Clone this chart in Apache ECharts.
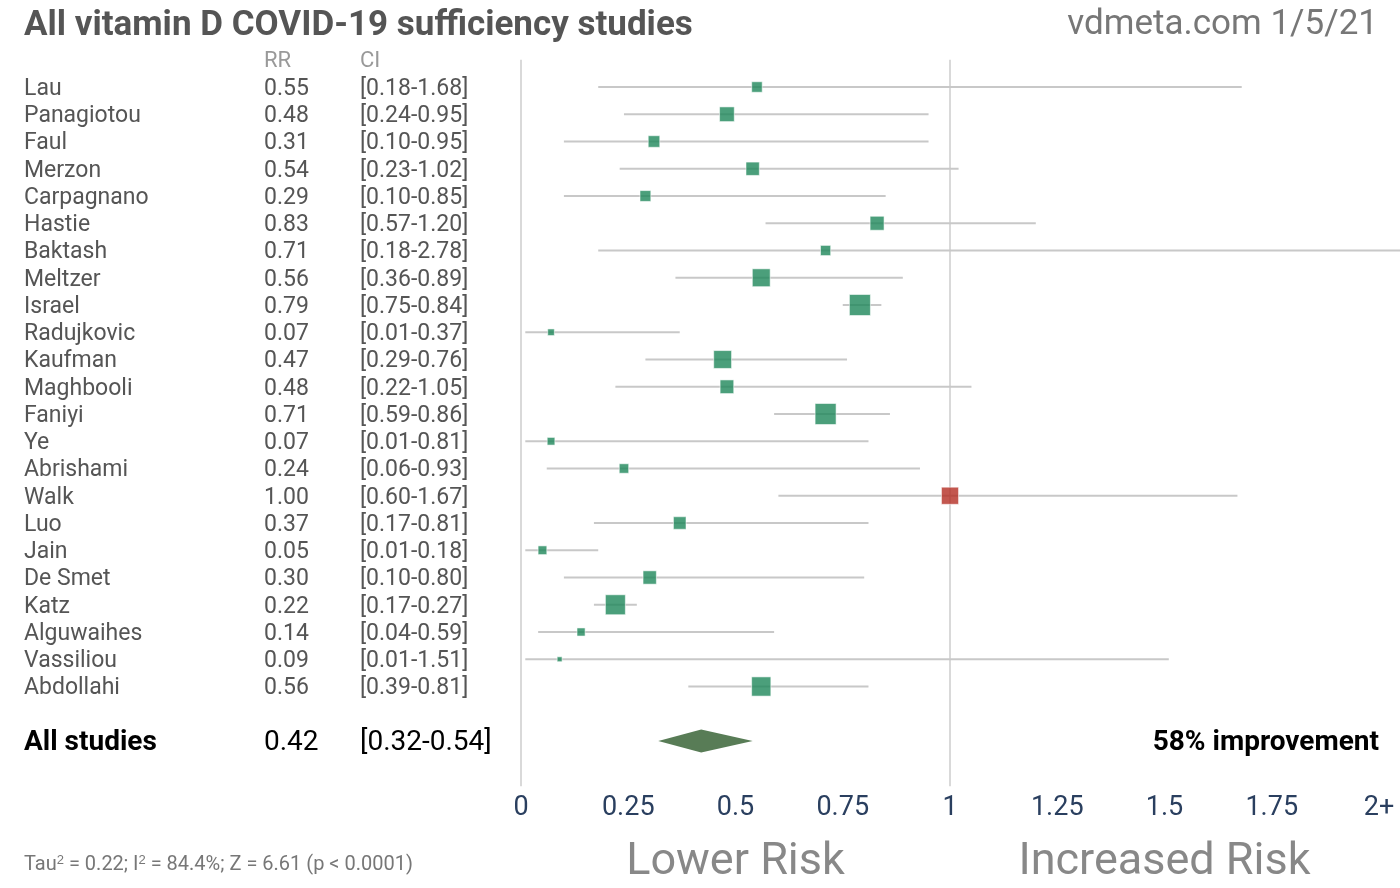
<!DOCTYPE html>
<html>
<head>
<meta charset="utf-8">
<script src="https://cdn.jsdelivr.net/npm/echarts@6/dist/echarts.min.js"></script>
<style>html,body{margin:0;padding:0;background:#fff;}#c{width:1400px;height:888px;}</style>
</head>
<body>
<div id="c"></div>
<script>
const studies = ['Lau','Panagiotou','Faul','Merzon','Carpagnano','Hastie','Baktash','Meltzer','Israel','Radujkovic','Kaufman','Maghbooli','Faniyi','Ye','Abrishami','Walk','Luo','Jain','De Smet','Katz','Alguwaihes','Vassiliou','Abdollahi'];
const rr     = [0.55,0.48,0.31,0.54,0.29,0.83,0.71,0.56,0.79,0.07,0.47,0.48,0.71,0.07,0.24,1.00,0.37,0.05,0.30,0.22,0.14,0.09,0.56];
const ciLow  = [0.18,0.24,0.10,0.23,0.10,0.57,0.18,0.36,0.75,0.01,0.29,0.22,0.59,0.01,0.06,0.60,0.17,0.01,0.10,0.17,0.04,0.01,0.39];
const ciHigh = [1.68,0.95,0.95,1.02,0.85,1.20,2.78,0.89,0.84,0.37,0.76,1.05,0.86,0.81,0.93,1.67,0.81,0.18,0.80,0.27,0.59,1.51,0.81];
const weights = [10,14,11,12.7,10.3,13.3,9.7,17,20,6.3,17,13,20,7.3,9,16.3,12,8.3,12.7,19,7.7,4.7,18.3];
const summaryName = 'All studies';
const summaryRR = 0.42, summaryLow = 0.32, summaryHigh = 0.54;
const summaryNote = '58% improvement';
const xTicks = [0,0.25,0.5,0.75,1,1.25,1.5,1.75,2];
const xTickLabels = ['0','0.25','0.5','0.75','1','1.25','1.5','1.75','2+'];
const refLines = [0, 1];
const riskLabels = [[0.5,'Lower Risk'],[1.5,'Increased Risk']];
const titleText = 'All vitamin D COVID-19 sufficiency studies';
const sourceText = 'vdmeta.com 1/5/21';

const SUMMARY_ROW = studies.length + 1;
const FONT = 'Roboto';
const TY = 2; // visual text offset
const SIZE_SCALE = 1.05;

const chart = echarts.init(document.getElementById('c'), null, {renderer:'canvas'});

const fmt = v => v.toFixed(2);

const rowData = studies.map((s,i)=>[i, rr[i], ciLow[i], ciHigh[i], s]);

const option = {
  animation:false,
  backgroundColor:'#fff',
  grid:{left:521, width:2.05*429, top:59.75, height:27.25*26.4, containLabel:false, outerBoundsMode:'none'},
  xAxis:{type:'value', min:0, max:2.05, interval:0.25,
    axisLine:{show:false}, axisTick:{show:false}, splitLine:{show:false},
    axisLabel:{show:true, interval:0, margin:15, color:'#2a3f5f', fontFamily:FONT, fontSize:27, lineHeight:28,
      formatter:v=>{ const k = xTicks.findIndex(t=>Math.abs(t-v)<1e-9); return k>=0 ? xTickLabels[k] : ''; }}},
  yAxis:{type:'value', min:-1, max:25.4, inverse:true, show:false},
  graphic:[
    {type:'text', left:24, top:9, style:{text:titleText, font:'bold 35px Roboto', fill:'#555'}},
    {type:'text', right:22, top:8, style:{text:sourceText, font:'35px Roboto', fill:'#777'}},
    {type:'text', left:24, top:854, style:{
      text:'Tau{s|2} = 0.22; I{s|2} = 84.4%; Z = 6.61 (p < 0.0001)',
      font:'20px Roboto', fill:'#777',
      rich:{s:{fontSize:13, verticalAlign:'top', fill:'#777', padding:[0,0,9,0]}}}}
  ],
  series:[
    { // reference vertical lines
      type:'custom', clip:false, silent:true, z:1,
      data:refLines.map(v=>[v]),
      renderItem:(params, api)=>{
        const v = api.value(0);
        const p1 = api.coord([v,-1]); const p2 = api.coord([v,25.66]);
        return {type:'line', shape:{x1:p1[0],y1:p1[1],x2:p2[0],y2:p2[1]}, style:{stroke:'#d9d9d9', lineWidth:2}};
      }
    },
    { // CI lines
      type:'custom', clip:true, silent:true, z:2,
      data:rowData,
      encode:{x:[2,3], y:0},
      renderItem:(params, api)=>{
        const i = api.value(0);
        const p1 = api.coord([api.value(2), i]); const p2 = api.coord([api.value(3), i]);
        return {type:'line', shape:{x1:p1[0],y1:p1[1],x2:p2[0],y2:p2[1]}, style:{stroke:'#c8c8c8', lineWidth:2}};
      }
    },
    { // study estimates
      type:'scatter', z:3, symbol:'rect',
      data:studies.map((s,i)=>[rr[i], i, weights[i]]),
      symbolSize:d=>d[2]*SIZE_SCALE,
      itemStyle:{
        color:p=> p.value[0] >= 1 ? 'rgba(180,45,35,0.8)' : 'rgba(30,135,90,0.8)',
        borderColor:'rgba(255,255,255,0.55)', borderWidth:1, opacity:1
      }
    },
    { // summary diamond
      type:'custom', clip:false, z:3,
      data:[[summaryRR, summaryLow, summaryHigh, SUMMARY_ROW]],
      renderItem:(params, api)=>{
        const r = api.value(3);
        const c = api.coord([api.value(0), r]);
        const l = api.coord([api.value(1), r]);
        const h = api.coord([api.value(2), r]);
        return {type:'polygon', shape:{points:[[l[0],c[1]],[c[0],c[1]-11.5],[h[0],c[1]],[c[0],c[1]+11.5]]}, style:{fill:'#587c56'}};
      }
    },
    { // row texts
      type:'custom', clip:false, z:4, silent:true,
      data:rowData,
      encode:{y:0},
      renderItem:(params, api)=>{
        const i = api.value(0);
        const y = api.coord([0, i])[1] + TY;
        const d = rowData[params.dataIndex];
        const st = (x,t)=>({type:'text', x:x, y:y, style:{text:t, font:'23px Roboto', fill:'#555', textVerticalAlign:'middle', textAlign:'left'}});
        const g = {type:'group', children:[st(24,d[4]), st(264,fmt(d[1])), st(360,'['+fmt(d[2])+'-'+fmt(d[3])+']')]};
        if (params.dataIndex===0){
          const yh = api.coord([0,-1])[1] + TY;
          g.children.push({type:'text', x:264, y:yh, style:{text:'RR', font:'22px Roboto', fill:'#999', textVerticalAlign:'middle'}});
          g.children.push({type:'text', x:360, y:yh, style:{text:'CI', font:'22px Roboto', fill:'#999', textVerticalAlign:'middle'}});
        }
        return g;
      }
    },
    { // summary texts
      type:'custom', clip:false, z:4, silent:true,
      data:[[SUMMARY_ROW, summaryRR, summaryLow, summaryHigh]],
      renderItem:(params, api)=>{
        const r = api.value(0);
        const y = api.coord([0, r])[1] + TY;
        const xr = api.coord([2, r])[0];
        return {type:'group', children:[
          {type:'text', x:24, y:y, style:{text:summaryName, font:'bold 28px Roboto', fill:'#000', textVerticalAlign:'middle'}},
          {type:'text', x:264, y:y, style:{text:fmt(api.value(1)), font:'28px Roboto', fill:'#000', textVerticalAlign:'middle'}},
          {type:'text', x:360, y:y, style:{text:'['+fmt(api.value(2))+'-'+fmt(api.value(3))+']', font:'28px Roboto', fill:'#000', textVerticalAlign:'middle'}},
          {type:'text', x:xr, y:y, style:{text:summaryNote, font:'bold 28px Roboto', fill:'#000', textVerticalAlign:'middle', textAlign:'right'}}
        ]};
      }
    },
    { // risk direction labels
      type:'custom', clip:false, z:4, silent:true,
      data:riskLabels,
      renderItem:(params, api)=>{
        const x = api.coord([api.value(0), 0])[0];
        return {type:'text', x:x, y:863, style:{text:riskLabels[params.dataIndex][1], font:'45px Roboto', fill:'#888', textAlign:'center', textVerticalAlign:'middle'}};
      }
    }
  ]
};
chart.setOption(option);
</script>
</body>
</html>
